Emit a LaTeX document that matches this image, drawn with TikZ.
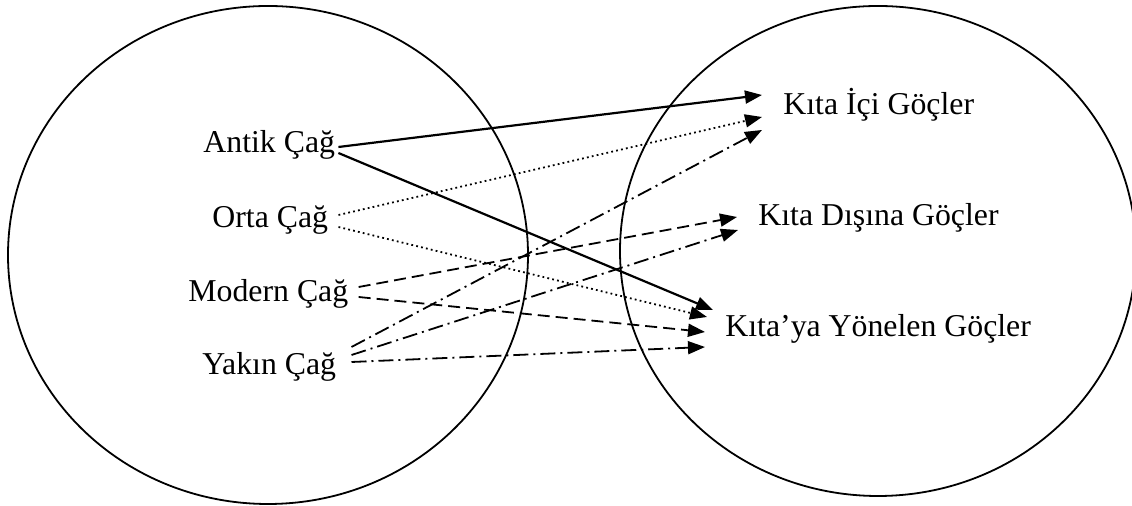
\documentclass[tikz,border=0pt]{standalone}
\usepackage{fontspec}
\setmainfont{Liberation Serif}
\usetikzlibrary{arrows.meta}
\begin{document}
\begin{tikzpicture}[x=0.5pt, y=-0.5pt, line join=round, >={Triangle[length=8.5pt,width=6.5pt]},
	lab/.style={anchor=base west, inner sep=0pt, font=\fontsize{15.9}{19}\selectfont},
	duz/.style={->, line width=1.1pt},
	nokta/.style={->, line width=0.9pt, dash pattern=on 0.9pt off 1.6pt},
	kesik/.style={->, line width=0.9pt, dash pattern=on 6pt off 3pt},
	kesiknokta/.style={->, line width=0.9pt, dash pattern=on 7.5pt off 2.5pt on 1pt off 2.5pt}]
	\useasboundingbox (0,0) rectangle (1132,506);
	\clip (0,0) rectangle (1132,506);
	\path
	(268,255) coordinate (L)
	(878,251) coordinate (R);
	\draw[line width=0.9pt] (L) circle[x radius=260, y radius=249]
	(R) circle[x radius=258, y radius=245];
	\path (203,153) node[lab] (antik) {Antik Çağ}
	(212,228) node[lab] (orta) {Orta Çağ}
	(188,302) node[lab] (modern) {Modern Çağ}
	(202,375) node[lab] (yakin) {Yakın Çağ}
	(783,115) node[lab] (ici) {Kıta İçi Göçler}
	(758,226) node[lab] (dis) {Kıta Dışına Göçler}
	(725,337) node[lab] (yon) {Kıta’ya Yönelen Göçler};
	\draw[duz] ([shift={(3,-6)}]antik.base east) -- ([shift={(-21,-20)}]ici.base west);
	\draw[duz] ([shift={(3,0)}]antik.base east) -- ([shift={(-12,-27)}]yon.base west);
	\draw[nokta] ([shift={(10,-13)}]orta.base east) -- ([shift={(-21,2)}]ici.base west);
	\draw[nokta] ([shift={(10,-1)}]orta.base east) -- ([shift={(-18,-20)}]yon.base west);
	\draw[kesik] ([shift={(10,-15)}]modern.base east) -- ([shift={(-21,-9)}]dis.base west);
	\draw[kesik] ([shift={(10,-5)}]modern.base east) -- ([shift={(-20,-5)}]yon.base west);
	\foreach \d/\h/\x/\y in {-28/ici/-21/15, -20/dis/-20/4, -13/yon/-20/10}
	\draw[kesiknokta] ([shift={(15,\d)}]yakin.base east) -- ([shift={(\x,\y)}]\h.base west);
\end{tikzpicture}
\end{document}
